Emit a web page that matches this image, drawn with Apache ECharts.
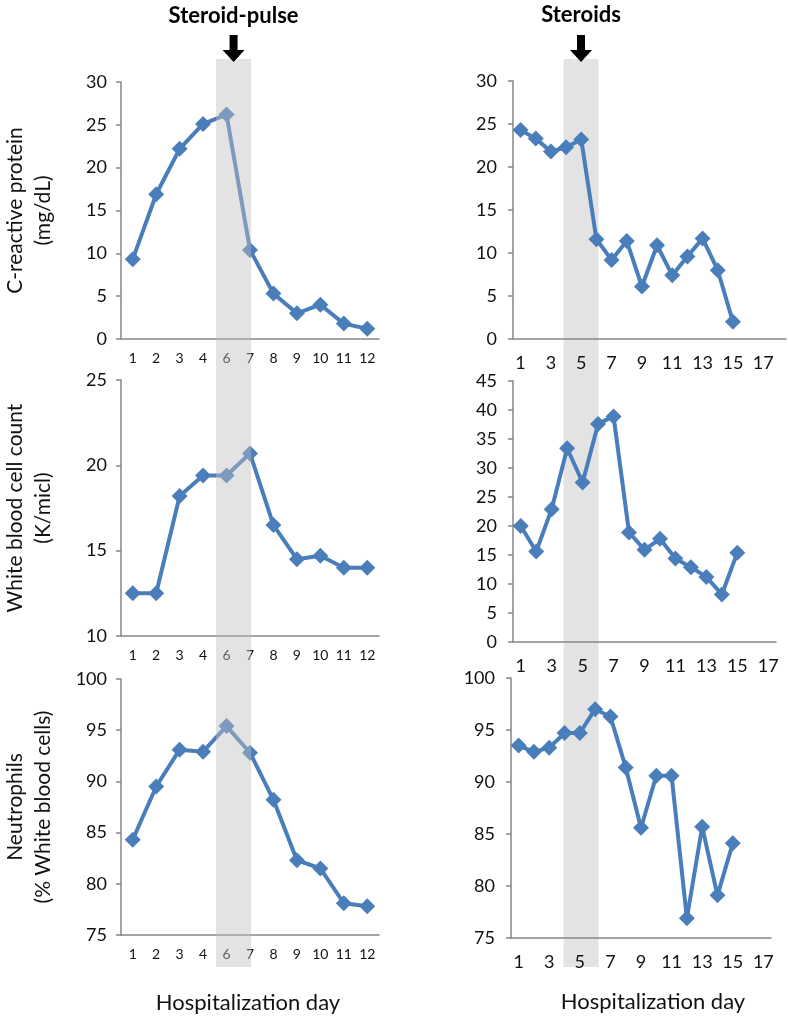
<!DOCTYPE html>
<html>
<head>
<meta charset="utf-8">
<script src="https://cdn.jsdelivr.net/npm/echarts@6/dist/echarts.min.js"></script>
<style>
html, body { margin: 0; padding: 0; background: #fff; }
#chart { width: 789px; height: 1018px; }
</style>
</head>
<body>
<div id="chart"></div>
<script>
// ---- data ----
const leftDays = ['1', '2', '3', '4', '6', '7', '8', '9', '10', '11', '12'];
const rightDaysTop = ['1', '2', '3', '4', '5', '6', '7', '8', '9', '10', '11', '12', '13', '14', '15', '16', '17', '18'];
const rightDays = ['1', '2', '3', '4', '5', '6', '7', '8', '9', '10', '11', '12', '13', '14', '15', '16', '17'];

const crpPulse = [9.3, 16.9, 22.2, 25.1, 26.2, 10.4, 5.3, 3.0, 4.0, 1.8, 1.2];
const wbcPulse = [12.5, 12.5, 18.2, 19.4, 19.4, 20.7, 16.5, 14.5, 14.7, 14.0, 14.0];
const neuPulse = [84.3, 89.5, 93.1, 92.9, 95.4, 92.8, 88.2, 82.3, 81.5, 78.1, 77.8];

const crpSteroids = [24.3, 23.3, 21.8, 22.3, 23.2, 11.6, 9.2, 11.4, 6.1, 10.9, 7.4, 9.6, 11.7, 8.0, 2.0];
const wbcSteroids = [20.0, 15.6, 22.9, 33.4, 27.5, 37.6, 38.9, 18.9, 15.9, 17.8, 14.4, 12.9, 11.2, 8.2, 15.4];
const neuSteroids = [93.5, 92.9, 93.3, 94.7, 94.7, 97.0, 96.3, 91.4, 85.6, 90.6, 90.6, 76.9, 85.7, 79.1, 84.1];

const yNames = ['C-reactive protein\n(mg/dL)', 'White blood cell count\n(K/micl)', 'Neutrophils\n(% White blood cells)'];
const yRanges = [[0, 30], [10, 25], [75, 100], [0, 30], [0, 45], [75, 100]];
const panelTitles = ['Steroid-pulse', 'Steroids'];
const xTitle = 'Hospitalization day';

// shaded treatment windows, in category-index units
const pulseBand = [3.55, 5.05];
const steroidBand = [2.83, 5.14];

const FONT = 'Lato, "Open Sans", sans-serif';
const LINE = '#4a7ebb';
const AXIS = '#868686';

const grids = [
    { left: 119, top: 82, width: 260, height: 257 },
    { left: 119, top: 380, width: 260, height: 256 },
    { left: 119, top: 679, width: 260, height: 256 },
    { left: 513, top: 81, width: 273, height: 258 },
    { left: 513, top: 381, width: 263, height: 261 },
    { left: 511, top: 678, width: 260, height: 260 }
];

const xCats = [leftDays, leftDays, leftDays, rightDaysTop, rightDays, rightDays];
const seriesData = [crpPulse, wbcPulse, neuPulse, crpSteroids, wbcSteroids, neuSteroids];

const chart = echarts.init(document.getElementById('chart'));

const xAxis = xCats.map((cats, i) => ({
    type: 'category',
    gridIndex: i,
    data: cats,
    boundaryGap: true,
    axisLine: { lineStyle: { color: AXIS, width: 1.5 } },
    axisTick: { interval: 0, length: 5, lineStyle: { color: AXIS, width: 1.5 } },
    axisLabel: {
        interval: i < 3 ? 0 : 1,
        color: '#111',
        fontFamily: FONT,
        fontSize: i < 3 ? 14 : 18,
        margin: i < 3 ? 12 : 15
    }
}));

const yAxis = yRanges.map((r, i) => ({
    type: 'value',
    gridIndex: i,
    min: r[0],
    max: r[1],
    interval: 5,
    name: i < 3 ? yNames[i] : '',
    nameLocation: 'middle',
    nameGap: 64,
    nameTextStyle: { fontFamily: FONT, fontSize: 21, lineHeight: 28, color: '#111' },
    splitLine: { show: false },
    axisLine: { show: true, lineStyle: { color: AXIS, width: 1.5 } },
    axisTick: { show: true, length: 5, lineStyle: { color: AXIS, width: 1.5 } },
    axisLabel: { color: '#111', fontFamily: FONT, fontSize: 18, margin: i < 3 ? 14 : 16 }
}));

const series = seriesData.map((d, i) => ({
    type: 'line',
    xAxisIndex: i,
    yAxisIndex: i,
    data: d,
    symbol: 'diamond',
    symbolSize: 16,
    showAllSymbol: true,
    lineStyle: { color: LINE, width: 4 },
    itemStyle: { color: LINE },
    animation: false
}));

chart.setOption({
    animation: false,
    grid: grids,
    xAxis: xAxis,
    yAxis: yAxis,
    series: series
});

// band position from the category scale
function bandX(gridIdx, range) {
    const p0 = chart.convertToPixel({ xAxisIndex: gridIdx }, 0);
    const p1 = chart.convertToPixel({ xAxisIndex: gridIdx }, 1);
    const step = p1 - p0;
    return [p0 + range[0] * step, p0 + range[1] * step];
}

const lb = bandX(0, pulseBand);
const rb = bandX(3, steroidBand);
const bandTop = 59, bandBottom = 967;

function arrow(cx) {
    return {
        type: 'polygon',
        z: 110,
        shape: {
            points: [[cx - 4, 35], [cx + 4, 35], [cx + 4, 50], [cx + 11, 50], [cx, 62], [cx - 11, 50], [cx - 4, 50]]
        },
        style: { fill: '#000' }
    };
}

chart.setOption({
    graphic: [
        // left band sits over the lines (they show through lighter)
        { type: 'rect', z: 100, shape: { x: lb[0], y: bandTop, width: lb[1] - lb[0], height: bandBottom - bandTop },
          style: { fill: 'rgba(191,191,191,0.44)' } },
        // right band sits behind everything
        { type: 'rect', z: -10, shape: { x: rb[0], y: bandTop, width: rb[1] - rb[0], height: bandBottom - bandTop },
          style: { fill: '#e3e3e3' } },
        arrow((lb[0] + lb[1]) / 2),
        arrow((rb[0] + rb[1]) / 2),
        { type: 'text', z: 110, x: (lb[0] + lb[1]) / 2, y: 16,
          style: { text: panelTitles[0], font: 'bold 22px ' + FONT, fill: '#000', align: 'center', verticalAlign: 'middle' } },
        { type: 'text', z: 110, x: (rb[0] + rb[1]) / 2, y: 15,
          style: { text: panelTitles[1], font: 'bold 22px ' + FONT, fill: '#000', align: 'center', verticalAlign: 'middle' } },
        { type: 'text', z: 110, x: 248, y: 1003,
          style: { text: xTitle, font: '22px ' + FONT, fill: '#111', align: 'center', verticalAlign: 'middle' } },
        { type: 'text', z: 110, x: 653, y: 1002,
          style: { text: xTitle, font: '22px ' + FONT, fill: '#111', align: 'center', verticalAlign: 'middle' } }
    ]
});
</script>
</body>
</html>
